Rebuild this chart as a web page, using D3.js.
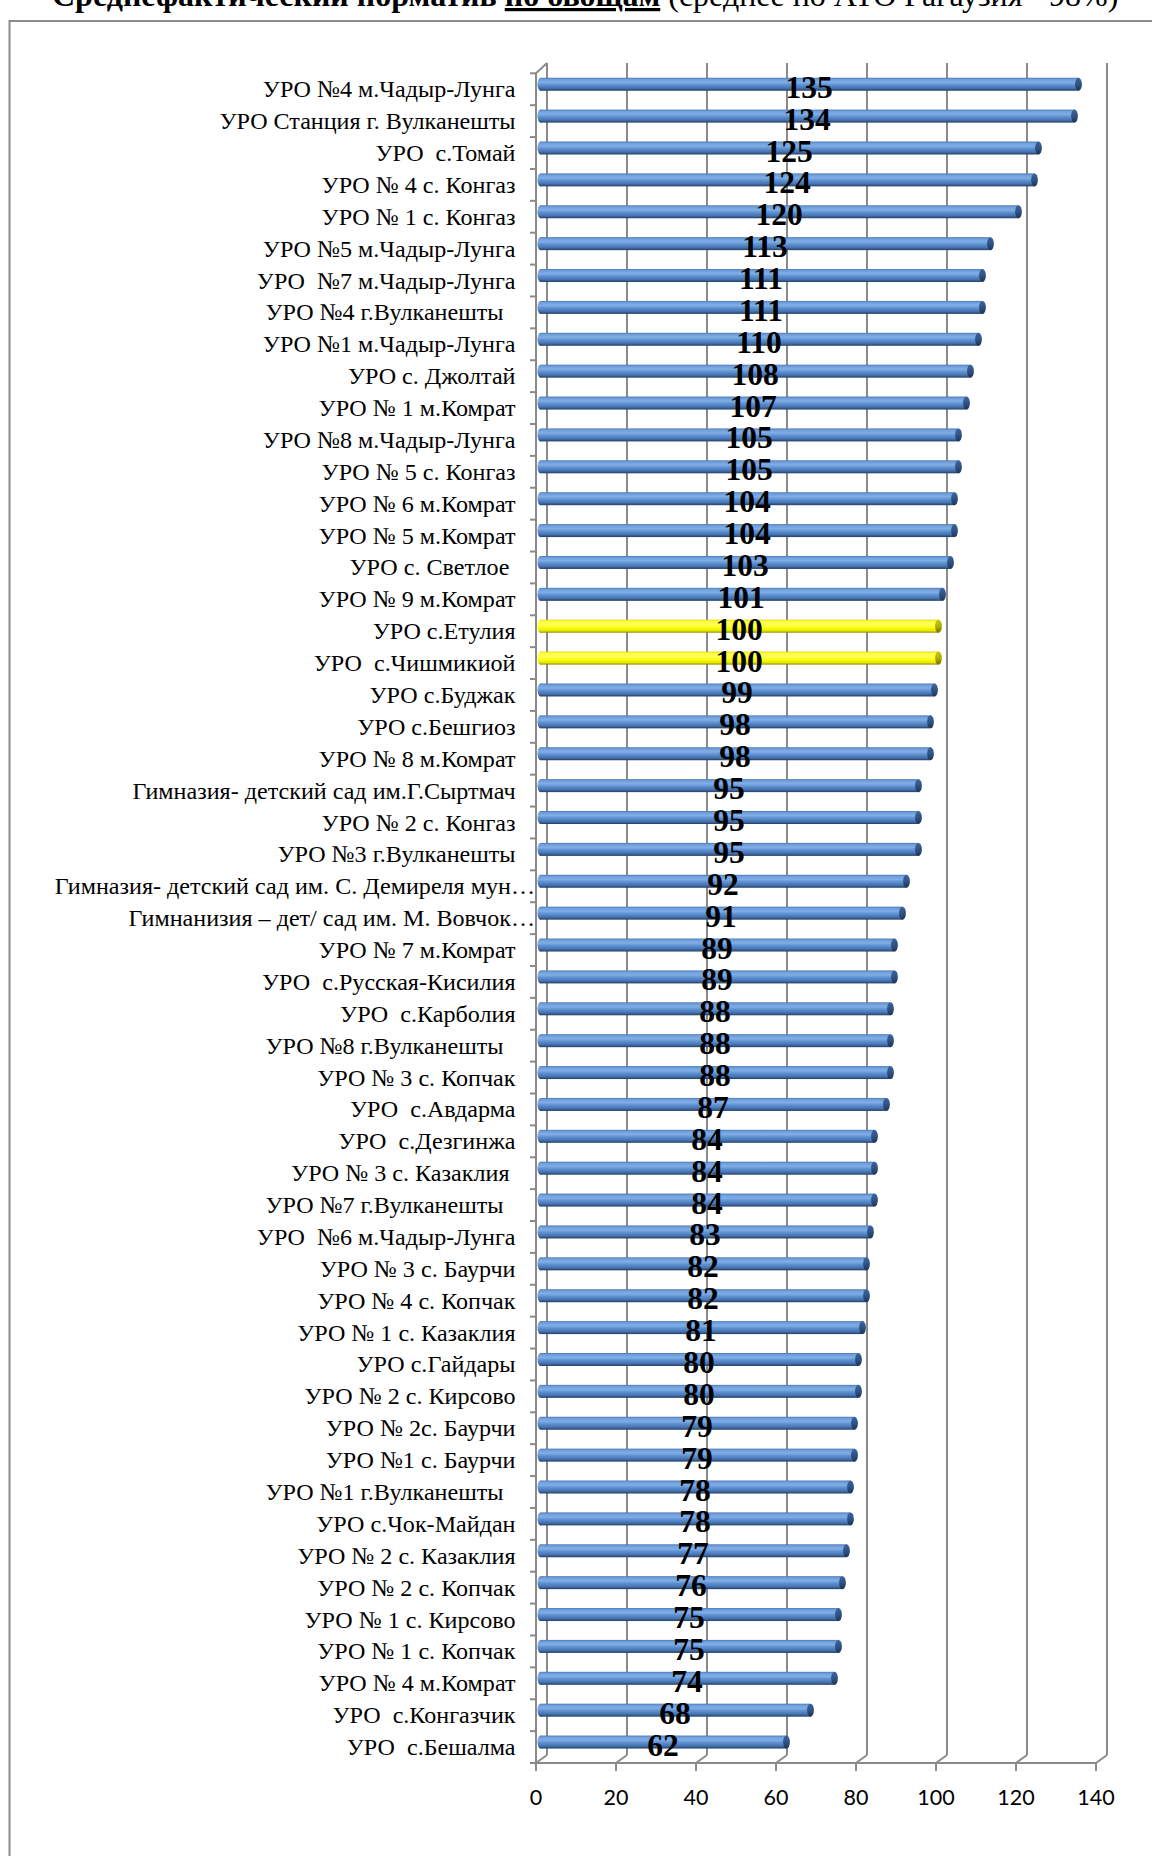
<!DOCTYPE html>
<html><head><meta charset="utf-8">
<script src="https://cdn.jsdelivr.net/npm/d3@7"></script>
<style>body{margin:0;background:#fff} svg{display:block} text{white-space:pre}</style>
</head><body>
<svg id="c" width="1152" height="1856"></svg>
<script>
const categories = [
"УРО №4 м.Чадыр-Лунга","УРО Станция г. Вулканешты","УРО  с.Томай","УРО № 4 с. Конгаз","УРО № 1 с. Конгаз",
"УРО №5 м.Чадыр-Лунга","УРО  №7 м.Чадыр-Лунга","УРО №4 г.Вулканешты  ","УРО №1 м.Чадыр-Лунга","УРО с. Джолтай",
"УРО № 1 м.Комрат","УРО №8 м.Чадыр-Лунга","УРО № 5 с. Конгаз","УРО № 6 м.Комрат","УРО № 5 м.Комрат",
"УРО с. Светлое ","УРО № 9 м.Комрат","УРО с.Етулия","УРО  с.Чишмикиой","УРО с.Буджак",
"УРО с.Бешгиоз","УРО № 8 м.Комрат","Гимназия- детский сад им.Г.Сыртмач","УРО № 2 с. Конгаз","УРО №3 г.Вулканешты",
"Гимназия- детский сад им. С. Демиреля мун…","Гимнанизия – дет/ сад им. М. Вовчок…","УРО № 7 м.Комрат","УРО  с.Русская-Кисилия","УРО  с.Карболия",
"УРО №8 г.Вулканешты  ","УРО № 3 с. Копчак","УРО  с.Авдарма","УРО  с.Дезгинжа","УРО № 3 с. Казаклия ",
"УРО №7 г.Вулканешты  ","УРО  №6 м.Чадыр-Лунга","УРО № 3 с. Баурчи","УРО № 4 с. Копчак","УРО № 1 с. Казаклия",
"УРО с.Гайдары","УРО № 2 с. Кирсово","УРО № 2с. Баурчи","УРО №1 с. Баурчи","УРО №1 г.Вулканешты  ",
"УРО с.Чок-Майдан","УРО № 2 с. Казаклия","УРО № 2 с. Копчак","УРО № 1 с. Кирсово","УРО № 1 с. Копчак",
"УРО № 4 м.Комрат","УРО  с.Конгазчик","УРО  с.Бешалма"
];
const values = [
135,134,125,124,120,
113,111,111,110,108,
107,105,105,104,104,
103,101,100,100,99,
98,98,95,95,95,
92,91,89,89,88,
88,88,87,84,84,
84,83,82,82,81,
80,80,79,79,78,
78,77,76,75,75,
74,68,62
];
const highlighted = ["УРО с.Етулия","УРО  с.Чишмикиой"];
const xTicks = [0,20,40,60,80,100,120,140];
const titleBold = "Среднефактический норматив ";
const titleUnderlined = "по овощам";
const titleRest = " (среднее по АТО Гагаузия - 98%)";

const svg = d3.select("#c");
const x0 = 536, x1 = 1096, yTop = 73.3, yBot = 1763;
const dx = 11, dy = -8, gridTop = 63;
const x = d3.scaleLinear().domain([0, 140]).range([x0, x1]);
const y = d3.scaleBand().domain(categories).range([yTop, yBot]).padding(0);
const bw = y.bandwidth();

const defs = svg.append("defs");
function grad(id, stops){
  const g = defs.append("linearGradient").attr("id", id).attr("x1",0).attr("y1",0).attr("x2",0).attr("y2",1);
  stops.forEach(s => g.append("stop").attr("offset", s[0]).attr("stop-color", s[1]));
}
grad("gBlue", [[0,"#4a78b5"],[0.12,"#6e9ddb"],[0.35,"#80aee6"],[0.55,"#5f90d0"],[0.8,"#4574b2"],[1,"#253f64"]]);
grad("gBlueCap", [[0,"#3b649c"],[0.5,"#2f5384"],[1,"#1e3555"]]);
grad("gYel", [[0,"#d8d800"],[0.12,"#ffff40"],[0.4,"#ffff5a"],[0.6,"#ffff10"],[0.85,"#e6e600"],[1,"#8a8a00"]]);
grad("gYelCap", [[0,"#c8c800"],[0.5,"#b0b000"],[1,"#707000"]]);

// frame
svg.append("rect").attr("x", 9.5).attr("y", 21).attr("width", 1300).attr("height", 2000)
  .attr("fill", "none").attr("stroke", "#8c8c8c").attr("stroke-width", 2);

// title (clipped at top)
const title = svg.append("text").attr("x", 52).attr("y", 6)
  .attr("font-family", "'Liberation Serif','Times New Roman',serif").attr("font-size", 32).attr("fill", "#000");
title.append("tspan").attr("font-weight", "bold").text(titleBold);
title.append("tspan").attr("font-weight", "bold").attr("text-decoration", "underline").text(titleUnderlined);
title.append("tspan").text(titleRest);

const gridColor = "#8a8a8a";
// back wall gridlines + floor diagonals
const grid = svg.append("g").attr("stroke", gridColor).attr("stroke-width", 2).attr("fill", "none");
xTicks.forEach(t => {
  grid.append("line").attr("x1", x(t) + dx).attr("x2", x(t) + dx).attr("y1", gridTop).attr("y2", yBot + dy);
  grid.append("line").attr("x1", x(t)).attr("x2", x(t) + dx).attr("y1", yBot).attr("y2", yBot + dy);
});
// left wall front edge
grid.append("line").attr("x1", x0).attr("x2", x0).attr("y1", yTop).attr("y2", yBot);
grid.append("line").attr("x1", x0).attr("x2", x0 + dx).attr("y1", yTop).attr("y2", gridTop);
// category ticks
d3.range(categories.length + 1).forEach(i => {
  const yy = yTop + i * bw;
  grid.append("line").attr("x1", x0 - 6).attr("x2", x0).attr("y1", yy).attr("y2", yy);
});
// x axis
grid.append("line").attr("x1", x0).attr("x2", x(140)).attr("y1", yBot).attr("y2", yBot);
xTicks.forEach(t => {
  grid.append("line").attr("x1", x(t)).attr("x2", x(t)).attr("y1", yBot).attr("y2", yBot + 8);
});
svg.append("g").selectAll("text").data(xTicks).join("text")
  .attr("x", d => x(d)).attr("y", yBot + 42).attr("text-anchor", "middle")
  .attr("font-family", "Lato, 'Open Sans', sans-serif").attr("font-size", 21.5).attr("fill", "#000")
  .text(d => d);

// bars
const bars = svg.append("g");
categories.forEach((c, i) => {
  const v = values[i];
  const hl = highlighted.includes(c);
  const cy = y(c) + bw / 2 - 5;
  const h = 13;
  const xs = x0 + 4.5;
  const xe = x(v) + 5.5;
  const g = bars.append("g");
  g.append("rect").attr("x", xs).attr("y", cy - h / 2).attr("width", xe - 3 - xs).attr("height", h)
    .attr("fill", hl ? "url(#gYel)" : "url(#gBlue)");
  g.append("ellipse").attr("cx", xs).attr("cy", cy).attr("rx", 3).attr("ry", h / 2)
    .attr("fill", hl ? "url(#gYel)" : "url(#gBlue)");
  g.append("ellipse").attr("cx", xe - 3).attr("cy", cy).attr("rx", 3.4).attr("ry", h / 2)
    .attr("fill", hl ? "url(#gYelCap)" : "url(#gBlueCap)");
});

// value labels
svg.append("g").selectAll("text").data(categories).join("text")
  .attr("x", (c, i) => x(values[i] / 2) + 3)
  .attr("y", c => y(c) + bw / 2 + 8.5)
  .attr("text-anchor", "middle")
  .attr("font-family", "'Liberation Serif','Times New Roman',serif").attr("font-weight", "bold")
  .attr("font-size", 31.5).attr("fill", "#000")
  .text((c, i) => values[i]);

// category labels
svg.append("g").selectAll("text").data(categories).join("text")
  .attr("x", c => c.endsWith("…") ? 535 : 515.5)
  .attr("y", c => y(c) + bw / 2 + 8)
  .attr("text-anchor", "end")
  .attr("font-family", "'Liberation Serif','Times New Roman',serif").attr("font-size", 24.1).attr("fill", "#000")
  .text(c => c);
</script>
</body></html>
